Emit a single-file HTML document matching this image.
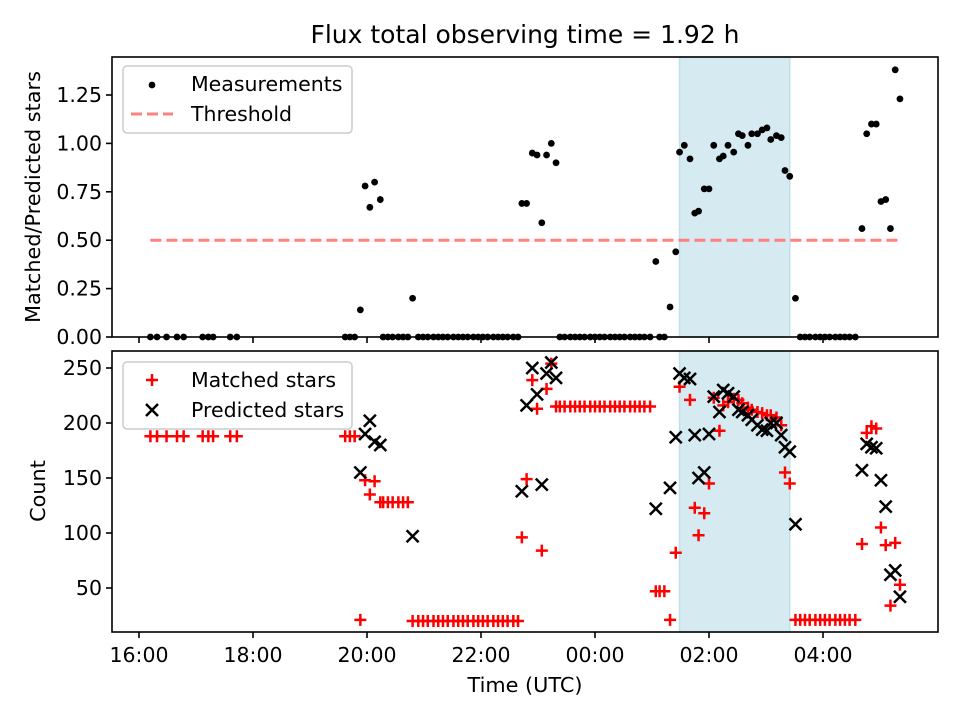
<!DOCTYPE html>
<html><head><meta charset="utf-8"><style>
body{margin:0;background:#fff}
svg{display:block;font-family:"DejaVu Sans","Liberation Sans",sans-serif}
</style></head><body>
<svg id="chart" width="960" height="720" viewBox="0 0 960 720" xmlns="http://www.w3.org/2000/svg">
<text x="525" y="43" font-size="25" text-anchor="middle">Flux total observing time = 1.92 h</text>
<text transform="translate(40,197) rotate(-90)" font-size="20.8" text-anchor="middle">Matched/Predicted stars</text>
<text transform="translate(45,491) rotate(-90)" font-size="20.8" text-anchor="middle">Count</text>
<text x="525" y="692" font-size="20.8" text-anchor="middle">Time (UTC)</text>
<g id="g"></g>
</svg>
<script>
// minutes since 16:00
const topTimes=[12,19,29,40,47,67,73,78,96,103,217,222,227,233,238,243,248,254,257,262,267,273,278,283,288,
294,299,304,310,315,320,325,331,336,341,346,352,357,362,367,373,378,383,388,394,399,
403,408,414,419,424,429,434,439,
443,448,454,459,464,469,475,480,485,490,496,501,506,511,517,522,527,532,538,544,548,553,559,565,
569,574,580,585,589,595,600,605,611,615,620,626,631,635,641,645,651,656,661,665,671,676,680,685,691,
696,701,706,712,717,722,727,733,738,743,748,754,761,766,771,776,781,786,791,796,801];
const topRatio=[0,0,0,0,0,0,0,0,0,0,0,0,0,0.14,0.78,0.67,0.80,0.71,0,0,0,0,0,0,0.20,
0,0,0,0,0,0,0,0,0,0,0,0,0,0,0,0,0,0,0,0,0,
0.69,0.69,0.95,0.94,0.59,0.94,1.0,0.90,
0,0,0,0,0,0,0,0,0,0,0,0,0,0,0,0,0,0,0,0.39,0,0,0.155,0.44,
0.955,0.99,0.92,0.64,0.65,0.765,0.765,0.99,0.92,0.935,0.99,0.955,1.05,1.04,0.99,1.05,1.05,1.07,1.08,1.02,1.04,1.03,0.86,0.83,0.20,
0,0,0,0,0,0,0,0,0,0,0,0,0.56,1.05,1.10,1.10,0.70,0.71,0.56,1.38,1.23];
const thresholdValue=0.5, thresholdStart=12, thresholdEnd=801;
const shadeStart=569, shadeEnd=685;
const matchedTimes=[12,19,29,40,47,67,73,78,96,103,217,222,227,233,238,243,248,254,257,262,267,273,278,283,288,
294,299,304,310,315,320,325,331,336,341,346,352,357,362,367,373,378,383,388,394,399,
403,408,414,419,424,429,434,
439,443,448,454,459,464,469,475,480,485,490,496,501,506,511,517,522,527,532,538,
544,548,553,559,565,569,580,585,589,595,600,605,611,615,620,626,631,635,641,645,651,656,661,665,671,676,680,685,
691,696,701,706,712,717,722,727,733,738,743,748,754,761,766,771,776,781,786,791,796,801];
const matchedCounts=[188,188,188,188,188,188,188,188,188,188,188,188,188,21,148,135,147,128,128,128,128,128,128,128,20,
20,20,20,20,20,20,20,20,20,20,20,20,20,20,20,20,20,20,20,20,20,
96,149,239,213,84,231,254,
215,215,215,215,215,215,215,215,215,215,215,215,215,215,215,215,215,215,215,215,
47,47,47,21,82,233,221,123,98,118,145,223,193,216,219,222,221,218,214,212,210,209,207,207,205,198,155,145,
21,21,21,21,21,21,21,21,21,21,21,21,21,90,191,197,195,105,89,34,91,53];
const predTimes=[233,238,243,248,254,288,403,408,414,419,424,429,434,439,544,559,565,569,574,580,585,589,595,600,605,611,615,620,626,631,635,641,645,651,656,661,665,671,676,680,685,691,761,766,771,776,781,786,791,796,801];
const predCounts=[155,190,202,183,180,97,138,216,250,226,144,245,255,241,122,141,187,245,241,240,189,150,155,190,224,210,230,227,224,212,210,207,203,198,194,193,200,200,189,178,174,108,157,181,178,177,148,124,62,66,42];
const xTickVals=[0,120,240,360,480,600,720];
const xTickLabels=["16:00","18:00","20:00","22:00","00:00","02:00","04:00"];
const topTickVals=[0,0.25,0.5,0.75,1.0,1.25];
const topTickLabels=["0.00","0.25","0.50","0.75","1.00","1.25"];
const botTickVals=[50,100,150,200,250];
const botTickLabels=["50","100","150","200","250"];

const NS="http://www.w3.org/2000/svg";
const G=document.getElementById('g');
const L=112,R=938,T1=57,B1=337,T2=351,B2=632;
const FS=20.5;
const X=m=>139+m*0.95;
const Y1=v=>337-v*193.6;
const Y2=c=>643-c*1.1;
function mk(tag,attrs,parent){const e=document.createElementNS(NS,tag);for(const k in attrs)e.setAttribute(k,attrs[k]);(parent||G).appendChild(e);return e;}

let sh=mk('rect',{x:X(shadeStart),y:T1,width:X(shadeEnd)-X(shadeStart),height:B1-T1,fill:'#d5eaf1',stroke:'#bfe0ea','stroke-width':1.5});


let sh2=mk('rect',{x:X(shadeStart),y:T2,width:X(shadeEnd)-X(shadeStart),height:B2-T2,fill:'#d5eaf1',stroke:'#bfe0ea','stroke-width':1.5});



let th=mk('line',{x1:X(thresholdStart),x2:X(thresholdEnd),y1:Y1(thresholdValue),y2:Y1(thresholdValue),stroke:'#ff8080','stroke-width':3,'stroke-dasharray':'11 5'});



topTimes.forEach((t,i)=>{
  const c=mk('circle',{cx:X(t),cy:Y1(topRatio[i]),r:3.4,fill:'#000'});
  
  
});
matchedTimes.forEach((t,i)=>{
  const x=X(t),y=Y2(matchedCounts[i]);
  const p=mk('path',{d:`M${x-6} ${y}H${x+6}M${x} ${y-6}V${y+6}`,stroke:'#f00','stroke-width':2.5,fill:'none'});
  
  
});
predTimes.forEach((t,i)=>{
  const x=X(t),y=Y2(predCounts[i]);
  const p=mk('path',{d:`M${x-6} ${y-6}L${x+6} ${y+6}M${x-6} ${y+6}L${x+6} ${y-6}`,stroke:'#000','stroke-width':2.5,fill:'none'});
  
  
});

let f1=mk('rect',{x:L,y:T1,width:R-L,height:B1-T1,fill:'none',stroke:'#000','stroke-width':1.6});


let f2=mk('rect',{x:L,y:T2,width:R-L,height:B2-T2,fill:'none',stroke:'#000','stroke-width':1.6});



xTickVals.forEach((v,i)=>{
  const x=X(v);
  const a=mk('line',{x1:x,x2:x,y1:B1,y2:B1+6,stroke:'#000','stroke-width':1.6});
  
  
  const b=mk('line',{x1:x,x2:x,y1:B2,y2:B2+6,stroke:'#000','stroke-width':1.6});
  
  
  const tx=mk('text',{x:x,y:B2+30,'font-size':FS,'text-anchor':'middle'});
  tx.textContent=xTickLabels[i];
  
  
});
topTickVals.forEach((v,i)=>{
  const y=Y1(v);
  const a=mk('line',{x1:L-6,x2:L,y1:y,y2:y,stroke:'#000','stroke-width':1.6});
  
  
  const tx=mk('text',{x:L-10,y:y+7,'font-size':FS,'text-anchor':'end'});
  tx.textContent=topTickLabels[i];
  
  
});
botTickVals.forEach((v,i)=>{
  const y=Y2(v);
  const a=mk('line',{x1:L-6,x2:L,y1:y,y2:y,stroke:'#000','stroke-width':1.6});
  
  
  const tx=mk('text',{x:L-10,y:y+7,'font-size':FS,'text-anchor':'end'});
  tx.textContent=botTickLabels[i];
  
  
});

let lg1=mk('rect',{x:123,y:66,width:229,height:67,rx:4,fill:'#fff','fill-opacity':0.8,stroke:'#ccc','stroke-width':1.5});


let d=mk('circle',{cx:152,cy:85,r:3.4,fill:'#000'});


let t1=mk('text',{x:191,y:91,'font-size':FS});t1.textContent='Measurements';


let dl=mk('line',{x1:131,x2:173,y1:114,y2:114,stroke:'#ff8080','stroke-width':3,'stroke-dasharray':'11 5'});


let t2=mk('text',{x:191,y:121,'font-size':FS});t2.textContent='Threshold';



let lg2=mk('rect',{x:123,y:362,width:229,height:67,rx:4,fill:'#fff','fill-opacity':0.8,stroke:'#ccc','stroke-width':1.5});


let pm=mk('path',{d:'M146 380H158M152 374V386',stroke:'#f00','stroke-width':2.5,fill:'none'});


let t3=mk('text',{x:191,y:387,'font-size':FS});t3.textContent='Matched stars';


let xm=mk('path',{d:'M146 404L158 416M146 416L158 404',stroke:'#000','stroke-width':2.5,fill:'none'});


let t4=mk('text',{x:191,y:417,'font-size':FS});t4.textContent='Predicted stars';


</script>
</body></html>
